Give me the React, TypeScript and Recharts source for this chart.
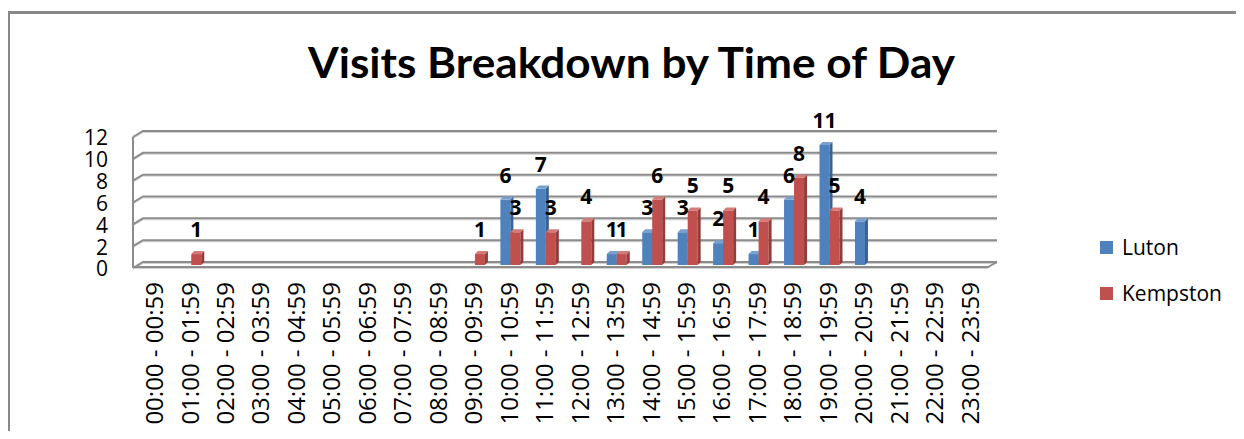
import React from 'react';
import { BarChart, Bar, XAxis, YAxis, CartesianGrid, LabelList, ReferenceArea } from 'recharts';

const hours = [
  '00:00 - 00:59', '01:00 - 01:59', '02:00 - 02:59', '03:00 - 03:59',
  '04:00 - 04:59', '05:00 - 05:59', '06:00 - 06:59', '07:00 - 07:59',
  '08:00 - 08:59', '09:00 - 09:59', '10:00 - 10:59', '11:00 - 11:59',
  '12:00 - 12:59', '13:00 - 13:59', '14:00 - 14:59', '15:00 - 15:59',
  '16:00 - 16:59', '17:00 - 17:59', '18:00 - 18:59', '19:00 - 19:59',
  '20:00 - 20:59', '21:00 - 21:59', '22:00 - 22:59', '23:00 - 23:59',
];
const luton = [0, 0, 0, 0, 0, 0, 0, 0, 0, 0, 6, 7, 0, 1, 3, 3, 2, 1, 6, 11, 4, 0, 0, 0];
const kempston = [0, 1, 0, 0, 0, 0, 0, 0, 0, 1, 3, 3, 4, 1, 6, 5, 5, 4, 8, 5, 0, 0, 0, 0];
const yTicks = [0, 2, 4, 6, 8, 10, 12];
const seriesNames = ['Luton', 'Kempston'];
const seriesColors = ['#4F81BD', '#C0504D'];
const sideColors = ['#3A6296', '#943C3A'];
const topColors = ['#7AA0D0', '#D57A77'];
const title = 'Visits Breakdown by Time of Day';

const data = hours.map((h, i) => ({ hour: h, Luton: luton[i], Kempston: kempston[i] }));

const FONT = '"Open Sans", sans-serif';
const TITLE_FONT = 'Lato, "Open Sans", sans-serif';

const makeBar3D = (si: number) => (props: any) => {
  const { x, y, width, height } = props;
  if (!height || height <= 0) return null;
  const dx = 3, dy = 3;
  const X = x + 1;
  const W = width;
  return (
    <g>
      <rect x={X} y={y} width={W} height={height} fill={seriesColors[si]} />
      <polygon
        points={`${X + W},${y} ${X + W + dx},${y - dy} ${X + W + dx},${y + height - dy} ${X + W},${y + height}`}
        fill={sideColors[si]}
      />
      <polygon
        points={`${X},${y} ${X + dx},${y - dy} ${X + W + dx},${y - dy} ${X + W},${y}`}
        fill={topColors[si]}
      />
    </g>
  );
};

const renderValueLabel = (props: any) => {
  const { x, y, width, value } = props;
  if (!value) return null;
  return (
    <text
      x={x + width / 2 + 1}
      y={y - 17}
      textAnchor="middle"
      fontFamily={FONT}
      fontWeight="bold"
      fontSize={21}
      fill="#000"
    >
      {value}
    </text>
  );
};

const renderGridLine = (props: any) => {
  const { x1, y1, x2 } = props;
  const s = y1;
  const pts = `${x1 - 4},${s + 3} ${x1 + 6},${s - 3} ${x2 + 9},${s - 3}`;
  const pts2 = `${x1 - 4},${s + 4.5} ${x1 + 6},${s - 1.5} ${x2 + 9},${s - 1.5}`;
  return (
    <g key={`g-${props.index}-${s}`}>
      <polyline points={pts2} fill="none" stroke="#d2d2d2" strokeWidth={1} />
      <polyline points={pts} fill="none" stroke="#8c8c8c" strokeWidth={2} />
    </g>
  );
};

const Frame = (props: any) => {
  const { x, y, width, height } = props;
  const bottom = y + height;
  const left = x - 4;
  const right = x + width;
  return (
    <g>
      <polyline
        points={`${left},${y + 3} ${left},${bottom + 2} ${right},${bottom + 2} ${right + 9},${bottom - 3}`}
        fill="none"
        stroke="#8c8c8c"
        strokeWidth={2}
      />
      <line x1={left + 1} y1={bottom + 3.5} x2={right} y2={bottom + 3.5} stroke="#d2d2d2" strokeWidth={1} />
    </g>
  );
};

const YTick = (props: any) => {
  const { x, y, payload } = props;
  return (
    <text x={x} y={y + 4} dy="0.35em" textAnchor="end" fontFamily={FONT} fontSize={21} fill="#000">
      {payload.value}
    </text>
  );
};

const XTick = (props: any) => {
  const { x, y, payload } = props;
  const ty = y + 9;
  return (
    <text
      x={x}
      y={ty}
      dy="0.35em"
      textAnchor="end"
      transform={`rotate(-90, ${x}, ${ty})`}
      fontFamily={FONT}
      fontSize={24}
      fill="#000"
    >
      {payload.value}
    </text>
  );
};

export default function App() {
  return (
    <div
      style={{
        position: 'relative',
        width: 1236,
        height: 431,
        marginBottom: -8,
        overflow: 'hidden',
        background: '#fff',
      }}
    >
      <div
        style={{
          position: 'absolute',
          left: -1,
          top: 3,
          width: 2000,
          height: 1000,
          borderLeft: '3px solid #888',
          borderTop: '3px solid #888',
        }}
      />
      <svg width={1236} height={110} style={{ position: 'absolute', left: 0, top: 0 }}>
        <text
          x={623.5}
          y={70}
          textAnchor="middle"
          fontFamily={TITLE_FONT}
          fontWeight="bold"
          fontSize={42}
          textLength={647}
          lengthAdjust="spacingAndGlyphs"
          fill="#000"
        >
          {title}
        </text>
      </svg>
      <div style={{ position: 'absolute', left: 0, top: 0 }}>
        <BarChart
          width={1236}
          height={431}
          data={data}
          margin={{ top: 126, right: 256, bottom: 0, left: 69 }}
          barCategoryGap="22%"
          barGap={0}
        >
          <CartesianGrid horizontal={renderGridLine} vertical={false} />
          <ReferenceArea y1={0} y2={12} shape={<Frame />} fill="none" stroke="none" />
          <XAxis
            dataKey="hour"
            interval={0}
            height={174}
            axisLine={false}
            tickLine={false}
            tick={<XTick />}
          />
          <YAxis
            width={60}
            domain={[0, 12]}
            ticks={yTicks}
            interval={0}
            axisLine={false}
            tickLine={false}
            tickSize={0}
            tickMargin={29}
            tick={<YTick />}
          />
          <Bar dataKey="Luton" fill={seriesColors[0]} shape={makeBar3D(0)} isAnimationActive={false}>
            <LabelList dataKey="Luton" content={renderValueLabel} />
          </Bar>
          <Bar dataKey="Kempston" fill={seriesColors[1]} shape={makeBar3D(1)} isAnimationActive={false}>
            <LabelList dataKey="Kempston" content={renderValueLabel} />
          </Bar>
        </BarChart>
      </div>
      <div style={{ position: 'absolute', left: 1092, top: 216, fontFamily: FONT, fontSize: 21, color: '#000' }}>
        {seriesNames.map((n, i) => (
          <div key={n} style={{ display: 'flex', alignItems: 'center', height: 46 }}>
            <span style={{ display: 'inline-block', width: 13, height: 13, background: seriesColors[i], marginRight: 9 }} />
            <span>{n}</span>
          </div>
        ))}
      </div>
    </div>
  );
}
